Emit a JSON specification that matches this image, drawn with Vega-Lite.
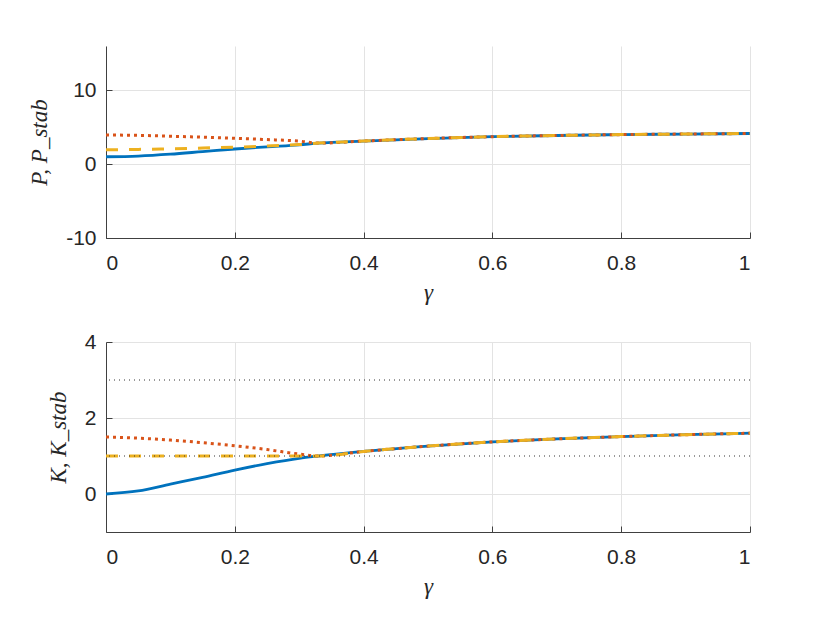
{
  "$schema": "https://vega.github.io/schema/vega-lite/v6.json",
  "background": "white",
  "padding": {"left": 28, "top": 46, "right": 10, "bottom": 5},
  "spacing": 27,
  "datasets": {
    "top": [
      {"g": 0, "P": 1.0, "Pr": 3.95, "Py": 1.95},
      {"g": 0.05, "P": 1.1, "Pr": 3.9, "Py": 2.0},
      {"g": 0.1, "P": 1.35, "Pr": 3.78, "Py": 2.08},
      {"g": 0.15, "P": 1.7, "Pr": 3.65, "Py": 2.18},
      {"g": 0.2, "P": 2.05, "Pr": 3.5, "Py": 2.3},
      {"g": 0.25, "P": 2.35, "Pr": 3.33, "Py": 2.45},
      {"g": 0.3, "P": 2.62, "Pr": 3.12, "Py": 2.65},
      {"g": 0.33, "P": 2.85, "Pr": 2.85, "Py": 2.85},
      {"g": 0.4, "P": 3.13, "Pr": 3.13, "Py": 3.13},
      {"g": 0.5, "P": 3.47, "Pr": 3.47, "Py": 3.47},
      {"g": 0.6, "P": 3.72, "Pr": 3.72, "Py": 3.72},
      {"g": 0.7, "P": 3.88, "Pr": 3.88, "Py": 3.88},
      {"g": 0.8, "P": 4.0, "Pr": 4.0, "Py": 4.0},
      {"g": 0.9, "P": 4.08, "Pr": 4.08, "Py": 4.08},
      {"g": 1.0, "P": 4.15, "Pr": 4.15, "Py": 4.15}
    ],
    "bottom": [
      {"g": 0, "K": 0.0, "Kr": 1.5, "Ky": 1.0},
      {"g": 0.05, "K": 0.08, "Kr": 1.47, "Ky": 1.0},
      {"g": 0.1, "K": 0.26, "Kr": 1.42, "Ky": 1.0},
      {"g": 0.15, "K": 0.44, "Kr": 1.35, "Ky": 1.0},
      {"g": 0.2, "K": 0.63, "Kr": 1.27, "Ky": 1.0},
      {"g": 0.25, "K": 0.8, "Kr": 1.17, "Ky": 1.0},
      {"g": 0.3, "K": 0.94, "Kr": 1.05, "Ky": 1.0},
      {"g": 0.33, "K": 1.0, "Kr": 1.0, "Ky": 1.0},
      {"g": 0.4, "K": 1.12, "Kr": 1.12, "Ky": 1.12},
      {"g": 0.5, "K": 1.26, "Kr": 1.26, "Ky": 1.26},
      {"g": 0.6, "K": 1.37, "Kr": 1.37, "Ky": 1.37},
      {"g": 0.7, "K": 1.45, "Kr": 1.45, "Ky": 1.45},
      {"g": 0.8, "K": 1.51, "Kr": 1.51, "Ky": 1.51},
      {"g": 0.9, "K": 1.56, "Kr": 1.56, "Ky": 1.56},
      {"g": 1.0, "K": 1.6, "Kr": 1.6, "Ky": 1.6}
    ],
    "ref": [{"k": 1}, {"k": 3}]
  },
  "vconcat": [
    {
      "width": 644,
      "height": 192,
      "data": {"name": "top"},
      "encoding": {
        "x": {"field": "g", "type": "quantitative", "scale": {"domain": [0, 1]}, "title": "γ",
              "axis": {"values": [0, 0.2, 0.4, 0.6, 0.8, 1]}}
      },
      "layer": [
        {
          "mark": {"type": "line", "color": "#0072BD", "strokeWidth": 2.8, "interpolate": "monotone"},
          "encoding": {"y": {"field": "P", "type": "quantitative", "scale": {"domain": [-10, 15]}, "title": "P,  P_stab",
                             "axis": {"values": [-10, 0, 10]}}}
        },
        {
          "mark": {"type": "line", "color": "#D95319", "strokeWidth": 3, "strokeDash": [3, 4], "interpolate": "monotone"},
          "encoding": {"y": {"field": "Pr", "type": "quantitative", "title": "P,  P_stab"}}
        },
        {
          "mark": {"type": "line", "color": "#EDB120", "strokeWidth": 3, "strokeDash": [12, 11], "interpolate": "monotone"},
          "encoding": {"y": {"field": "Py", "type": "quantitative", "title": "P,  P_stab"}}
        }
      ]
    },
    {
      "width": 644,
      "height": 190,
      "layer": [
        {
          "data": {"name": "bottom"},
          "mark": {"type": "line", "color": "#0072BD", "strokeWidth": 2.8, "interpolate": "monotone"},
          "encoding": {
            "x": {"field": "g", "type": "quantitative", "scale": {"domain": [0, 1]}, "title": "γ",
                  "axis": {"values": [0, 0.2, 0.4, 0.6, 0.8, 1]}},
            "y": {"field": "K", "type": "quantitative", "scale": {"domain": [-1, 4]}, "title": "K,  K_stab",
                  "axis": {"values": [0, 2, 4]}}
          }
        },
        {
          "data": {"name": "bottom"},
          "mark": {"type": "line", "color": "#D95319", "strokeWidth": 3, "strokeDash": [3, 4], "interpolate": "monotone"},
          "encoding": {
            "x": {"field": "g", "type": "quantitative", "title": "γ"},
            "y": {"field": "Kr", "type": "quantitative", "title": "K,  K_stab"}
          }
        },
        {
          "data": {"name": "bottom"},
          "mark": {"type": "line", "color": "#EDB120", "strokeWidth": 3, "strokeDash": [12, 11], "interpolate": "monotone"},
          "encoding": {
            "x": {"field": "g", "type": "quantitative", "title": "γ"},
            "y": {"field": "Ky", "type": "quantitative", "title": "K,  K_stab"}
          }
        },
        {
          "data": {"name": "ref"},
          "mark": {"type": "rule", "color": "#333333", "strokeWidth": 1, "strokeDash": [1, 4]},
          "encoding": {"y": {"field": "k", "type": "quantitative", "title": "K,  K_stab"}}
        }
      ]
    }
  ],
  "config": {
    "view": {"stroke": null},
    "axis": {
      "grid": true,
      "gridColor": "#e3e3e3",
      "domainColor": "#404040",
      "tickColor": "#404040",
      "tickSize": -6,
      "labelPadding": 16,
      "labelFont": "Liberation Sans",
      "labelFontSize": 21,
      "labelColor": "#262626",
      "labelExpr": "'' + datum.value",
      "titleFont": "Liberation Serif",
      "titleFontStyle": "italic",
      "titleFontWeight": "normal",
      "titleFontSize": 23,
      "titleColor": "#262626"
    },
    "axisX": {"labelPadding": 20, "titlePadding": 8},
    "axisY": {"titlePadding": 14}
  }
}
